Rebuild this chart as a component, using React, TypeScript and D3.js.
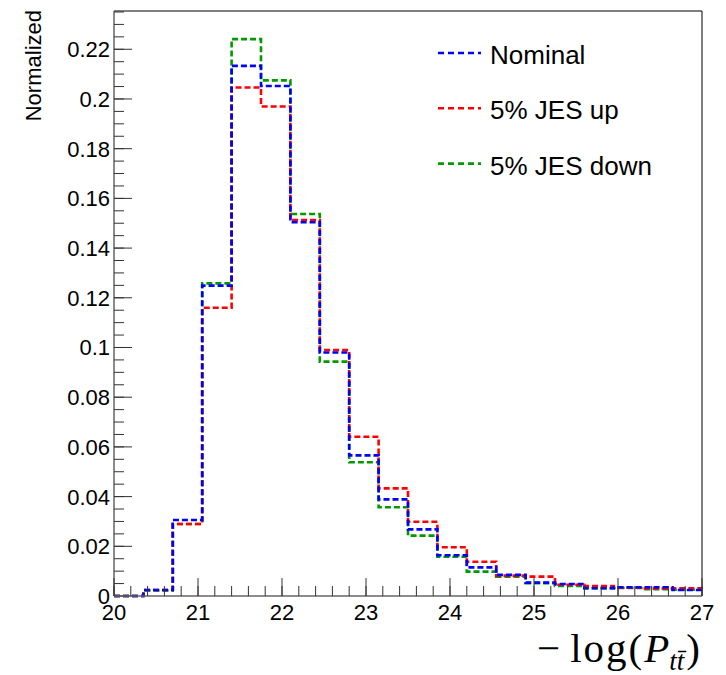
import React from "react";
import * as d3 from "d3";

const X_MIN = 20;
const X_MAX = 27;
const N_BINS = 20;
const Y_MAX = 0.2354;

const xTickLabels = [20, 21, 22, 23, 24, 25, 26, 27];
const yTickLabels = [0, 0.02, 0.04, 0.06, 0.08, 0.1, 0.12, 0.14, 0.16, 0.18, 0.2, 0.22];

const nominal = [0, 0.0024, 0.0306, 0.1249, 0.2133, 0.2052, 0.1504, 0.098, 0.0566, 0.0389, 0.0268, 0.0164, 0.0115, 0.0085, 0.0054, 0.0048, 0.0031, 0.0035, 0.0035, 0.0024];
const jesUp = [0, 0.0024, 0.029, 0.116, 0.2046, 0.197, 0.1513, 0.099, 0.0641, 0.0433, 0.0299, 0.0196, 0.0138, 0.0082, 0.0078, 0.0045, 0.004, 0.0033, 0.003, 0.0031];
const jesDown = [0, 0.0022, 0.029, 0.1258, 0.2241, 0.2075, 0.1537, 0.0943, 0.0538, 0.0357, 0.0243, 0.0158, 0.0098, 0.0078, 0.0052, 0.004, 0.0031, 0.0032, 0.0027, 0.0025];

const seriesNames = ["Nominal", "5% JES up", "5% JES down"];
const seriesColors = ["#0000ff", "#ff0000", "#009900"];

const W = 726;
const H = 675;
const L = 114;
const R = 702;
const T = 11;
const B = 596;

export default function App() {
  const x = d3.scaleLinear().domain([X_MIN, X_MAX]).range([L, R]);
  const y = d3.scaleLinear().domain([0, Y_MAX]).range([B, T]);
  const binW = (X_MAX - X_MIN) / N_BINS;

  const line = d3
    .line<[number, number]>()
    .x((d) => x(d[0]))
    .y((d) => y(d[1]))
    .curve(d3.curveStepAfter);

  const pathFor = (vals: number[]) => {
    const pts: [number, number][] = vals.map((v, i) => [X_MIN + i * binW, v]);
    pts.push([X_MAX, vals[vals.length - 1]]);
    return line(pts) || "";
  };

  const series = [nominal, jesUp, jesDown];
  const drawOrder = [2, 1, 0];

  const xMinor = d3.range(X_MIN, X_MAX + 1e-9, 0.2);
  const yMinor = d3.range(0, Y_MAX, 0.005);

  const font = "'Liberation Sans', Arial, Helvetica, sans-serif";
  const fmtY = (v: number) => String(+v.toFixed(2));

  return (
    <svg width={W} height={H} style={{ position: "absolute", left: 0, top: 0, background: "#fff" }}>
      <rect x={0} y={0} width={W} height={H} fill="#fff" />
      {/* frame */}
      <line x1={L} x2={R} y1={T} y2={T} stroke="#000" strokeWidth={1} />
      <line x1={R} x2={R} y1={T} y2={B} stroke="#000" strokeWidth={1} />

      {/* histograms */}
      {drawOrder.map((i) => (
        <path
          key={i}
          d={pathFor(series[i])}
          fill="none"
          stroke={seriesColors[i]}
          strokeWidth={2.6}
          strokeDasharray="6 3"
        />
      ))}

      {/* y axis */}
      <line x1={L} x2={L} y1={T} y2={B} stroke="#666" strokeWidth={1.5} />
      {yMinor.map((v, i) => (
        <line key={"ym" + i} x1={L} x2={L + 10} y1={y(v)} y2={y(v)} stroke="#333" strokeWidth={1} />
      ))}
      {yTickLabels.map((v) => (
        <g key={"yt" + v}>
          <line x1={L} x2={L + 18} y1={y(v)} y2={y(v)} stroke="#333" strokeWidth={1} />
          <text x={110} y={y(v)} dy="0.36em" textAnchor="end" fontFamily={font} fontSize={22} fill="#000">
            {fmtY(v)}
          </text>
        </g>
      ))}

      {/* x axis */}
      <line x1={L} x2={R} y1={B} y2={B} stroke="#666" strokeWidth={1.5} />
      {xMinor.map((v, i) => (
        <line key={"xm" + i} x1={x(v)} x2={x(v)} y1={B} y2={B - 10} stroke="#333" strokeWidth={1} />
      ))}
      {xTickLabels.map((v) => (
        <g key={"xt" + v}>
          <line x1={x(v)} x2={x(v)} y1={B} y2={B - 18} stroke="#333" strokeWidth={1} />
          <text x={x(v)} y={620} textAnchor="middle" fontFamily={font} fontSize={22} fill="#000">
            {v}
          </text>
        </g>
      ))}

      {/* axis titles */}
      <text
        transform="translate(41,10) rotate(-90)"
        textAnchor="end"
        fontFamily={font}
        fontSize={22}
        fill="#000"
      >
        Normalized
      </text>
      <text x={700} y={662} textAnchor="end" fontFamily="'Liberation Serif', 'DejaVu Serif', serif" fontSize={41} fill="#000">
        <tspan>−</tspan>
        <tspan dx={10} letterSpacing={2}>log(</tspan>
        <tspan fontStyle="italic">P</tspan>
        <tspan fontStyle="italic" fontSize={27} dy={8}>t</tspan>
        <tspan fontStyle="italic" fontSize={27}>t̄</tspan>
        <tspan dx={2} dy={-8}>)</tspan>
      </text>

      {/* legend */}
      {seriesNames.map((name, i) => (
        <g key={name}>
          <line
            x1={438}
            x2={481}
            y1={53 + i * 55.3}
            y2={53 + i * 55.3}
            stroke={seriesColors[i]}
            strokeWidth={2.6}
            strokeDasharray="6 4"
          />
          <text x={490} y={64 + i * 55.3} fontFamily={font} fontSize={26} fill="#000">
            {name}
          </text>
        </g>
      ))}
    </svg>
  );
}
